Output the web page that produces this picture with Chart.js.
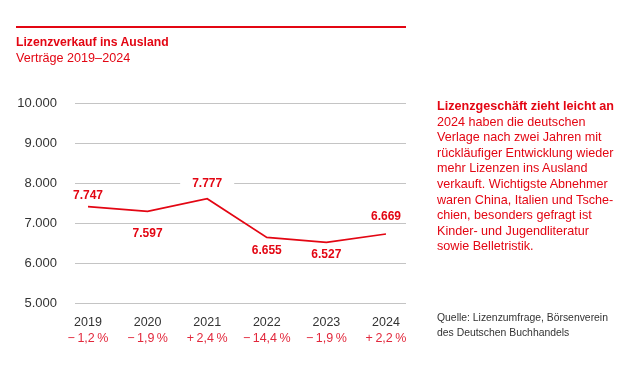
<!DOCTYPE html>
<html><head><meta charset="utf-8">
<script src="https://cdn.jsdelivr.net/npm/chart.js@4"></script>
<style>
html,body{margin:0;padding:0;background:#fff;}
body{width:630px;height:370px;position:relative;overflow:hidden;font-family:"Liberation Sans",Arial,sans-serif;}
#wrap{position:absolute;left:0;top:0;width:630px;height:370px;}
.rule{position:absolute;left:16px;top:26px;width:390px;height:2px;background:#e30613;}
.t1{position:absolute;left:16px;top:35px;font-size:12.2px;font-weight:bold;color:#e30613;line-height:15px;}
.t2{position:absolute;left:16px;top:51px;font-size:12.6px;color:#e30613;line-height:15px;}
.side{position:absolute;left:437px;top:99px;width:190px;font-size:12.6px;line-height:15.6px;color:#e30613;}
.side b{font-weight:bold;}
.src{position:absolute;left:437px;top:310px;font-size:10.4px;line-height:15px;color:#333;}
</style></head>
<body>
<div id="wrap"><canvas id="c" width="630" height="370"></canvas></div>
<div class="rule"></div>
<div class="t1">Lizenzverkauf ins Ausland</div>
<div class="t2">Verträge 2019–2024</div>
<div class="side"><b>Lizenzgeschäft zieht leicht an</b><br>2024 haben die deutschen<br>Verlage nach zwei Jahren mit<br>rückläufiger Entwicklung wieder<br>mehr Lizenzen ins Ausland<br>verkauft. Wichtigste Abnehmer<br>waren China, Italien und Tsche-<br>chien, besonders gefragt ist<br>Kinder- und Jugendliteratur<br>sowie Belletristik.</div>
<div class="src">Quelle: Lizenzumfrage, Börsenverein<br>des Deutschen Buchhandels</div>
<script>
// Data
const years = [2019, 2020, 2021, 2022, 2023, 2024];
const plottedValues = [7408, 7290, 7608, 6640, 6515, 6725]; // line as drawn in the picture
const valueLabels = ['7.747', '7.597', '7.777', '6.655', '6.527', '6.669'];
const changeLabels = ['\u2212\u20091,2\u2009%', '\u2212\u20091,9\u2009%', '+\u20092,4\u2009%', '\u2212\u200914,4\u2009%', '\u2212\u20091,9\u2009%', '+\u20092,2\u2009%'];
const yTicks = [5000, 6000, 7000, 8000, 9000, 10000];

const RED = '#e30613';
const FONT = '"Liberation Sans", Arial, sans-serif';

function fmt(v){ return String(v).replace(/\B(?=(\d{3})+(?!\d))/g, '.'); }

const labelPlugin = {
  id: 'valueLabels',
  afterDatasetsDraw(chart, args, opts) {
    const ctx = chart.ctx;
    const meta = chart.getDatasetMeta(0);
    ctx.save();
    ctx.font = 'bold 12px ' + FONT;
    ctx.textAlign = 'center';
    ctx.textBaseline = 'middle';
    meta.data.forEach((pt, i) => {
      const x = pt.x, y = pt.y + opts.offsets[i];
      const w = ctx.measureText(valueLabels[i]).width;
      ctx.fillStyle = '#fff';
      ctx.fillRect(x - w/2 - 12, y - 4, w + 24, 8);
      ctx.fillStyle = RED;
      ctx.fillText(valueLabels[i], x, y);
    });
    ctx.restore();
  }
};

const yearTicks = (scale) => { scale.ticks = years.map(v => ({value: v})); };

new Chart(document.getElementById('c'), {
  type: 'line',
  data: {
    datasets: [{
      data: years.map((y, i) => ({x: y, y: plottedValues[i]})),
      borderColor: RED,
      borderWidth: 1.7,
      pointRadius: 0,
      tension: 0,
      fill: false
    }]
  },
  options: {
    responsive: false,
    animation: false,
    devicePixelRatio: 1,
    layout: { padding: { left: 0, right: 224, top: 103, bottom: 24 } },
    plugins: {
      legend: { display: false },
      tooltip: { enabled: false },
      valueLabels: { offsets: [-10.5, 22, -14.8, 13.1, 12.6, -17.5] }
    },
    scales: {
      x: {
        type: 'linear', position: 'bottom', weight: 0,
        min: 2018.782, max: 2024.336,
        afterBuildTicks: yearTicks,
        afterFit: (s) => { s.height = 27; },
        grid: { display: false, drawTicks: false },
        border: { display: false },
        ticks: { padding: 12, color: '#333', font: { family: FONT, size: 12.5 },
          callback: (v) => String(v), maxRotation: 0, autoSkip: false }
      },
      x2: {
        type: 'linear', position: 'bottom', weight: 1,
        min: 2018.782, max: 2024.336,
        afterBuildTicks: yearTicks,
        afterFit: (s) => { s.height = 16; },
        grid: { display: false, drawTicks: false },
        border: { display: false },
        ticks: { padding: 1, color: '#e2283c', font: { family: FONT, size: 12.5 },
          callback: (v) => changeLabels[years.indexOf(v)], maxRotation: 0, autoSkip: false }
      },
      y: {
        min: 5000, max: 10000,
        afterBuildTicks: (s) => { s.ticks = yTicks.map(v => ({value: v})); },
        afterFit: (s) => { s.width = 75; },
        grid: { color: '#c4c4c4', lineWidth: 1, drawTicks: false },
        border: { display: false },
        ticks: { padding: 18, color: '#333', font: { family: FONT, size: 13 }, callback: (v) => fmt(v) }
      }
    }
  },
  plugins: [labelPlugin]
});
</script>
</body></html>
